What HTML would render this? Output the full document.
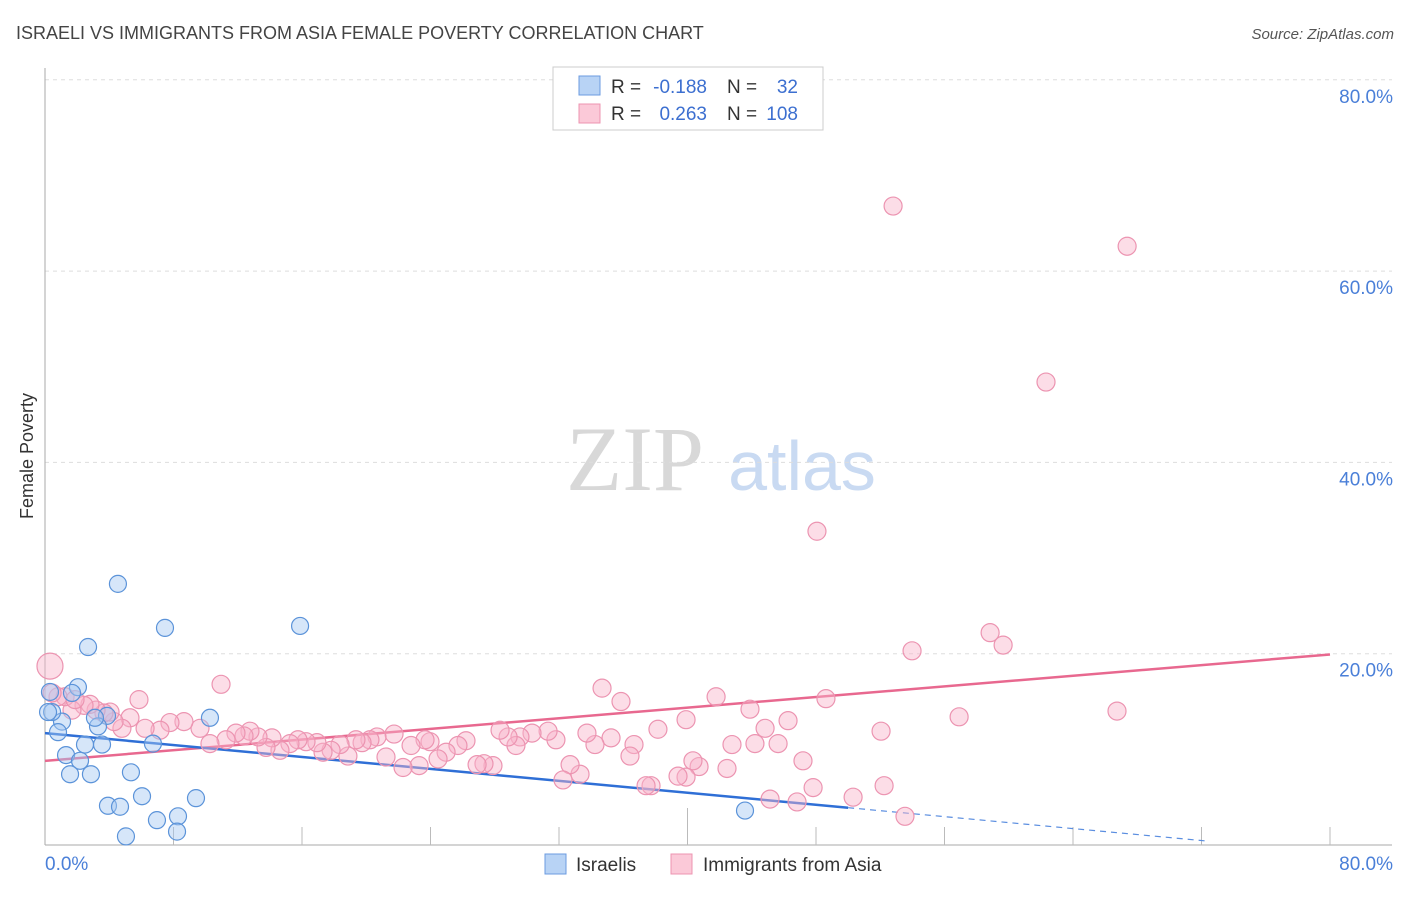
<!DOCTYPE html>
<html><head><meta charset="utf-8"><style>
body{margin:0;background:#fff;font-family:"Liberation Sans",sans-serif;}
</style></head><body>
<svg id="c" width="1406" height="892" xmlns="http://www.w3.org/2000/svg">
<text x="16" y="39" font-size="18" fill="#444">ISRAELI VS IMMIGRANTS FROM ASIA FEMALE POVERTY CORRELATION CHART</text>
<text x="1394" y="39" font-size="15" fill="#555" font-style="italic" text-anchor="end">Source: ZipAtlas.com</text>
<text x="33" y="456" font-size="18" fill="#333" text-anchor="middle" transform="rotate(-90 33 456)">Female Poverty</text>
<g>
<text x="635" y="490" font-size="92" fill="#d8d8d8" font-family="Liberation Serif,serif" text-anchor="middle">ZIP</text>
<text x="802" y="490" font-size="70" fill="#c9daf2" text-anchor="middle">atlas</text>
</g>
<g id="grid"></g><g id="axes"></g><g id="trend"></g><g id="pts"></g>
<g>
<rect x="553" y="67" width="270" height="63" fill="#fff" stroke="#ccc"/>
<rect x="579" y="76" width="21" height="19" fill="#b8d3f5" stroke="#6b9be0"/>
<rect x="579" y="104" width="21" height="19" fill="#fbc9d8" stroke="#ec94b1"/>
<text x="611" y="93" font-size="19" fill="#333">R =</text>
<text x="707" y="93" font-size="19" fill="#3c6fd0" text-anchor="end">-0.188</text>
<text x="727" y="93" font-size="19" fill="#333">N =</text>
<text x="798" y="93" font-size="19" fill="#3c6fd0" text-anchor="end">32</text>
<text x="611" y="120" font-size="19" fill="#333">R =</text>
<text x="707" y="120" font-size="19" fill="#3c6fd0" text-anchor="end">0.263</text>
<text x="727" y="120" font-size="19" fill="#333">N =</text>
<text x="798" y="120" font-size="19" fill="#3c6fd0" text-anchor="end">108</text>
</g>
<g>
<rect x="545" y="854" width="21" height="20" fill="#b8d3f5" stroke="#6b9be0"/>
<text x="576" y="871" font-size="19" fill="#333">Israelis</text>
<rect x="671" y="854" width="21" height="20" fill="#fbc9d8" stroke="#ec94b1"/>
<text x="703" y="871" font-size="19" fill="#333">Immigrants from Asia</text>
</g>
</svg>
<script>
const yTicks=[20,40,60,80];
const yTickLabels=["20.0%","40.0%","60.0%","80.0%"];
const xTickLabels=["0.0%","80.0%"];
const isrX=[4.54,7.47,15.88,2.68,2.05,1.68,0.31,3.86,10.27,3.30,1.06,0.44,0.81,6.72,2.49,3.55,1.31,2.18,1.56,2.86,5.35,3.92,4.67,6.04,6.97,8.28,9.40,5.04,8.22,43.58,0.19,3.11];
const isrY=[27.3,22.7,22.9,20.7,16.5,15.9,16.0,13.5,13.3,12.4,12.9,13.9,11.8,10.6,10.5,10.5,9.4,8.8,7.4,7.4,7.6,4.1,4.0,5.1,2.6,3.0,4.9,0.9,1.4,3.6,13.9,13.3];
const asiaX=[52.80,67.37,62.32,48.06,58.84,59.65,53.98,0.31,66.74,56.91,52.05,48.62,43.89,41.78,34.68,35.86,10.96,5.85,52.24,50.31,53.54,46.82,45.14,47.82,47.19,46.26,44.83,45.64,44.20,42.77,42.46,40.72,40.34,39.91,39.41,37.73,37.42,39.91,38.16,36.67,36.42,35.24,34.24,33.74,33.31,32.69,32.25,31.81,31.32,30.32,29.57,29.32,28.83,28.33,27.89,27.33,26.90,26.21,25.71,24.97,24.47,23.97,23.66,23.29,22.79,22.29,21.73,21.23,20.67,20.23,19.74,19.36,18.86,18.37,17.81,17.31,16.93,16.25,15.75,15.25,14.63,14.13,13.76,13.26,12.76,12.39,11.89,11.27,10.27,9.65,8.65,7.78,7.16,6.23,5.29,4.79,4.30,4.05,3.67,3.18,2.80,2.43,1.68,1.25,0.81,0.44,1.87];
const asiaY=[66.8,62.6,48.4,32.8,22.2,20.9,20.3,18.7,14.0,13.4,11.9,15.3,14.2,15.5,16.4,15.0,16.8,15.2,6.2,5.0,3.0,4.5,4.8,6.0,8.8,13.0,12.2,10.6,10.6,10.5,8.0,8.2,8.8,7.1,7.2,6.2,6.2,13.1,12.1,10.5,9.3,11.2,10.5,11.7,7.4,8.4,6.8,11.0,11.9,11.7,11.3,10.4,11.3,12.0,8.3,8.5,8.4,10.9,10.4,9.7,9.0,10.8,11.0,8.3,10.4,8.1,11.6,9.2,11.3,11.0,10.7,11.0,9.3,10.5,9.9,9.7,10.7,10.8,11.0,10.6,9.9,11.2,10.2,11.3,11.9,11.4,11.7,11.0,10.6,12.2,12.9,12.8,12.0,12.2,13.3,12.2,12.9,13.9,13.8,14.1,14.7,14.6,14.1,15.5,15.5,15.9,15.2];
const isrTrend=[11.7,-0.156]; // intercept, slope
const asiaTrend=[8.8,0.139];
const X=v=>45+v/80*1285, Y=v=>845-v/20*191.3;
const NS='http://www.w3.org/2000/svg';
function mk(p,t,a){const e=document.createElementNS(NS,t);for(const k in a)e.setAttribute(k,a[k]);document.getElementById(p).appendChild(e);return e;}
yTicks.forEach((t,i)=>{
 const g=mk('grid','line',{x1:45,x2:1392,y1:Y(t),y2:Y(t),stroke:'#ddd','stroke-dasharray':'4,4'});
 
 
 const l=mk('grid','text',{x:1393,y:Y(t)+23,'font-size':19,fill:'#4a7fd8','text-anchor':'end'});
 l.textContent=yTickLabels[i];
 
 
});
const ya=mk('axes','line',{x1:45,x2:45,y1:68,y2:845,stroke:'#aaa'});


const xa=mk('axes','line',{x1:45,x2:1392,y1:845,y2:845,stroke:'#aaa'});


for(let i=1;i<=10;i++){
 const t=mk('axes','line',{x1:X(i*8),x2:X(i*8),y1:i==5?808:827,y2:845,stroke:'#bbb'});
 
 
}
[[0,'start',45],[80,'end',1393]].forEach((d,i)=>{
 const l=mk('axes','text',{x:d[2],y:870,'font-size':19,fill:'#4a7fd8','text-anchor':d[1]});
 l.textContent=xTickLabels[i];
 
 
});
const tl=(tr,x0,x1,c,dash,name)=>{const e=mk('trend','line',{x1:X(x0),x2:X(x1),y1:Y(tr[0]+tr[1]*x0),y2:Y(tr[0]+tr[1]*x1),stroke:c,'stroke-width':dash?1.2:2.5,'stroke-dasharray':dash?'6,5':'none'});
 
 };
tl(asiaTrend,0,80,'#e8688f',false,'asia-trend-line');
tl(isrTrend,0,50,'#2f6fd6',false,'israeli-trend-line');
tl(isrTrend,50,72.5,'#5b8ee0',true,'israeli-trend-extension');
asiaX.forEach((x,i)=>{
 const c=mk('pts','circle',{cx:X(x),cy:Y(asiaY[i]),r:i==7?13:9,fill:'rgba(248,180,202,0.45)',stroke:'#ec94b1','stroke-width':1.2});
 
 
});
isrX.forEach((x,i)=>{
 const c=mk('pts','circle',{cx:X(x),cy:Y(isrY[i]),r:8.5,fill:'rgba(165,200,242,0.45)',stroke:'#5b93d9','stroke-width':1.2});
 
 
});
</script>
</body></html>
